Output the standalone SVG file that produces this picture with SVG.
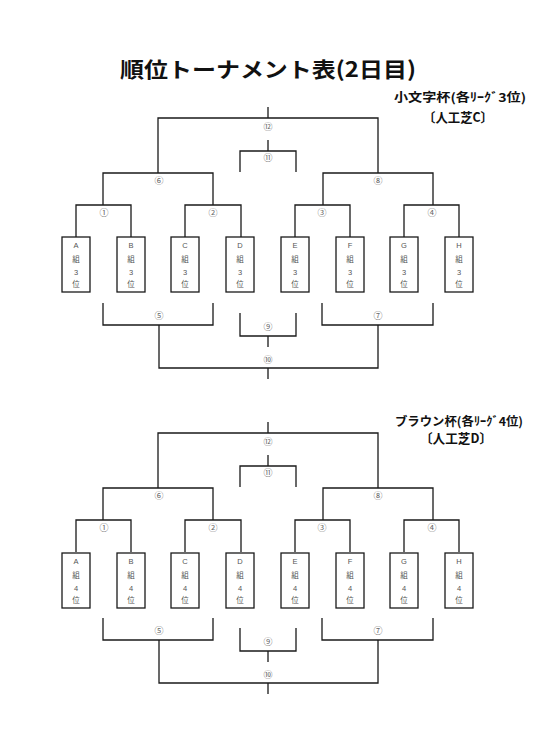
<svg xmlns="http://www.w3.org/2000/svg" width="556" height="747" viewBox="0 0 556 747">
<style>
.ln{fill:none;stroke:#1a1a1a;stroke-width:1.3}
.bx{fill:#fff;stroke:#1a1a1a;stroke-width:1.3}
.num{font-family:"Noto Sans CJK JP","DejaVu Sans",sans-serif;font-size:9px;fill:#666;text-anchor:middle}
.bt{font-family:"Liberation Sans","Noto Sans CJK JP",sans-serif;font-size:7.5px;fill:#555;text-anchor:middle}
.ttl{font-family:"Noto Sans CJK JP",sans-serif;font-weight:bold;fill:#111}
</style>
<rect width="556" height="747" fill="#fff"/>
<g id="title">
<text class="ttl" x="120" y="77" font-size="21" textLength="296" lengthAdjust="spacingAndGlyphs">順位トーナメント表(2日目)</text>
</g>
<g id="label-c">
<text class="ttl" x="394" y="102" font-size="12" textLength="132" lengthAdjust="spacingAndGlyphs">小文字杯(各ﾘｰｸﾞ3位)</text>
<text class="ttl" x="423" y="121.5" font-size="13" textLength="70" lengthAdjust="spacingAndGlyphs">〔人工芝C〕</text>
</g>
<g id="label-d">
<text class="ttl" x="395" y="425.5" font-size="12" textLength="128" lengthAdjust="spacingAndGlyphs">ブラウン杯(各ﾘｰｸﾞ4位)</text>
<text class="ttl" x="420" y="442.5" font-size="13" textLength="72" lengthAdjust="spacingAndGlyphs">〔人工芝D〕</text>
</g>

<g id="connectors-c" class="ln">
<path d="M268,107V118M158,173V118H378V173"/>
<path d="M268,140V151M240,172V151H296V172"/>
<path d="M103,205V173H213V205M323,205V173H433V205"/>
<path d="M76,237V205H131V237M185,237V205H241V237M295,237V205H350V237M404,237V205H459V237"/>
<path d="M103,303V325H213V303M159,325V368H378V325M322,303V325H433V303"/>
<path d="M240,313V336H296V313M268,336V347M268,368V379"/>
</g>
<g id="match-labels-c" class="num">
<text x="268" y="130">⑫</text>
<text x="268" y="161">⑪</text>
<text x="159" y="184">⑥</text>
<text x="378" y="184">⑧</text>
<text x="104" y="216">①</text>
<text x="213" y="216">②</text>
<text x="322" y="216">③</text>
<text x="432" y="216">④</text>
<text x="159" y="319">⑤</text>
<text x="378" y="319">⑦</text>
<text x="268" y="330">⑨</text>
<text x="268" y="363">⑩</text>
</g>
<g id="c-A"><rect class="bx" x="62" y="237" width="28" height="55"/><text class="bt" x="76" y="247.5">A</text><text class="bt" x="76" y="262">組</text><text class="bt" x="76" y="274.5">3</text><text class="bt" x="76" y="287">位</text></g>
<g id="c-B"><rect class="bx" x="117" y="237" width="28" height="55"/><text class="bt" x="131" y="247.5">B</text><text class="bt" x="131" y="262">組</text><text class="bt" x="131" y="274.5">3</text><text class="bt" x="131" y="287">位</text></g>
<g id="c-C"><rect class="bx" x="171" y="237" width="28" height="55"/><text class="bt" x="185" y="247.5">C</text><text class="bt" x="185" y="262">組</text><text class="bt" x="185" y="274.5">3</text><text class="bt" x="185" y="287">位</text></g>
<g id="c-D"><rect class="bx" x="226" y="237" width="28" height="55"/><text class="bt" x="240" y="247.5">D</text><text class="bt" x="240" y="262">組</text><text class="bt" x="240" y="274.5">3</text><text class="bt" x="240" y="287">位</text></g>
<g id="c-E"><rect class="bx" x="281" y="237" width="28" height="55"/><text class="bt" x="295" y="247.5">E</text><text class="bt" x="295" y="262">組</text><text class="bt" x="295" y="274.5">3</text><text class="bt" x="295" y="287">位</text></g>
<g id="c-F"><rect class="bx" x="336" y="237" width="28" height="55"/><text class="bt" x="350" y="247.5">F</text><text class="bt" x="350" y="262">組</text><text class="bt" x="350" y="274.5">3</text><text class="bt" x="350" y="287">位</text></g>
<g id="c-G"><rect class="bx" x="390" y="237" width="28" height="55"/><text class="bt" x="404" y="247.5">G</text><text class="bt" x="404" y="262">組</text><text class="bt" x="404" y="274.5">3</text><text class="bt" x="404" y="287">位</text></g>
<g id="c-H"><rect class="bx" x="445" y="237" width="28" height="55"/><text class="bt" x="459" y="247.5">H</text><text class="bt" x="459" y="262">組</text><text class="bt" x="459" y="274.5">3</text><text class="bt" x="459" y="287">位</text></g>

<g transform="translate(0,315)">
<g id="connectors-d" class="ln">
<path d="M268,107V118M158,173V118H378V173"/>
<path d="M268,140V151M240,172V151H296V172"/>
<path d="M103,205V173H213V205M323,205V173H433V205"/>
<path d="M76,237V205H131V237M185,237V205H241V237M295,237V205H350V237M404,237V205H459V237"/>
<path d="M103,303V325H213V303M159,325V368H378V325M322,303V325H433V303"/>
<path d="M240,313V336H296V313M268,336V347M268,368V379"/>
</g>
<g id="match-labels-d" class="num">
<text x="268" y="130">⑫</text>
<text x="268" y="161">⑪</text>
<text x="159" y="184">⑥</text>
<text x="378" y="184">⑧</text>
<text x="104" y="216">①</text>
<text x="213" y="216">②</text>
<text x="322" y="216">③</text>
<text x="432" y="216">④</text>
<text x="159" y="319">⑤</text>
<text x="378" y="319">⑦</text>
<text x="268" y="330">⑨</text>
<text x="268" y="363">⑩</text>
</g>
<g id="d-A"><rect class="bx" x="62" y="238" width="28" height="55"/><text class="bt" x="76" y="248.5">A</text><text class="bt" x="76" y="263">組</text><text class="bt" x="76" y="275.5">4</text><text class="bt" x="76" y="288">位</text></g>
<g id="d-B"><rect class="bx" x="117" y="238" width="28" height="55"/><text class="bt" x="131" y="248.5">B</text><text class="bt" x="131" y="263">組</text><text class="bt" x="131" y="275.5">4</text><text class="bt" x="131" y="288">位</text></g>
<g id="d-C"><rect class="bx" x="171" y="238" width="28" height="55"/><text class="bt" x="185" y="248.5">C</text><text class="bt" x="185" y="263">組</text><text class="bt" x="185" y="275.5">4</text><text class="bt" x="185" y="288">位</text></g>
<g id="d-D"><rect class="bx" x="226" y="238" width="28" height="55"/><text class="bt" x="240" y="248.5">D</text><text class="bt" x="240" y="263">組</text><text class="bt" x="240" y="275.5">4</text><text class="bt" x="240" y="288">位</text></g>
<g id="d-E"><rect class="bx" x="281" y="238" width="28" height="55"/><text class="bt" x="295" y="248.5">E</text><text class="bt" x="295" y="263">組</text><text class="bt" x="295" y="275.5">4</text><text class="bt" x="295" y="288">位</text></g>
<g id="d-F"><rect class="bx" x="336" y="238" width="28" height="55"/><text class="bt" x="350" y="248.5">F</text><text class="bt" x="350" y="263">組</text><text class="bt" x="350" y="275.5">4</text><text class="bt" x="350" y="288">位</text></g>
<g id="d-G"><rect class="bx" x="390" y="238" width="28" height="55"/><text class="bt" x="404" y="248.5">G</text><text class="bt" x="404" y="263">組</text><text class="bt" x="404" y="275.5">4</text><text class="bt" x="404" y="288">位</text></g>
<g id="d-H"><rect class="bx" x="445" y="238" width="28" height="55"/><text class="bt" x="459" y="248.5">H</text><text class="bt" x="459" y="263">組</text><text class="bt" x="459" y="275.5">4</text><text class="bt" x="459" y="288">位</text></g>
</g>
</svg>
